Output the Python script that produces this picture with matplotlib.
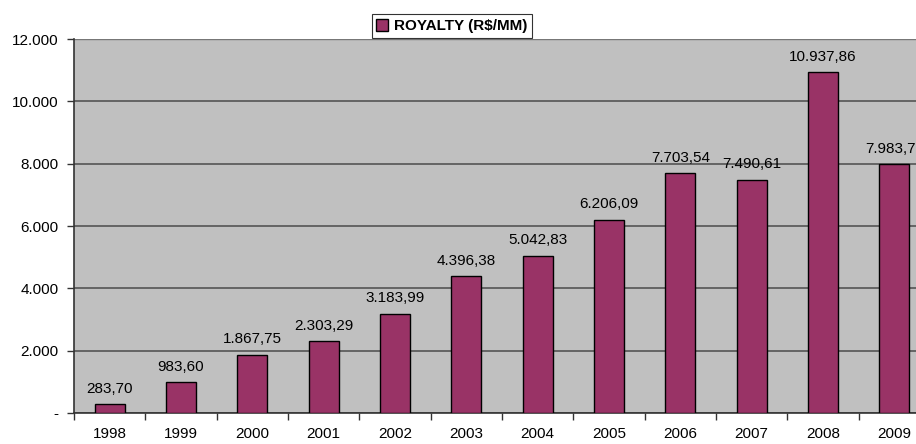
import numpy as np
import matplotlib.pyplot as plt
from matplotlib.ticker import FixedLocator, NullFormatter

years = ['1998', '1999', '2000', '2001', '2002', '2003', '2004', '2005', '2006', '2007', '2008', '2009']
royalty = [283.70, 983.60, 1867.75, 2303.29, 3183.99, 4396.38, 5042.83, 6206.09, 7703.54, 7490.61, 10937.86, 7983.71]
yticks = [0, 2000, 4000, 6000, 8000, 10000, 12000]
ylabels = ['-', '2.000', '4.000', '6.000', '8.000', '10.000', '12.000']

plt.rcParams['font.family'] = ['Liberation Sans', 'DejaVu Sans']
FS = 11

def br_fmt(v):
    # brazilian number format 1.234,56
    s = '{:,.2f}'.format(v)
    return s.replace(',', 'X').replace('.', ',').replace('X', '.')

W, H = 916, 444
fig = plt.figure(figsize=(W / 100, H / 100), dpi=100)
# plot area runs past the right edge in the original
ax = fig.add_axes([74 / W, 1 - 413 / H, (930 - 74) / W, (413 - 39) / H])
ax.set_facecolor('#C0C0C0')

x = np.arange(len(years))
bars = ax.bar(x, royalty, width=0.42, color='#993366', edgecolor='black', linewidth=1,
              label='ROYALTY (R$/MM)', zorder=3)

for xi, v in zip(x, royalty):
    ax.annotate(br_fmt(v), (xi, v), xytext=(0, 6), textcoords='offset points',
                ha='center', va='bottom', fontsize=FS, color='black', clip_on=False)

ax.set_xlim(-0.5, len(years) - 0.5)
ax.set_ylim(0, 12000)
ax.set_yticks(yticks)
ax.set_yticklabels(ylabels, fontsize=FS)
ax.yaxis.grid(True, color='#555555', linewidth=1.2, zorder=1)

# category labels centered, tick marks between categories
ax.set_xticks(x)
ax.set_xticklabels(years, fontsize=FS)
ax.tick_params(axis='x', which='major', length=0, pad=10)
ax.xaxis.set_minor_locator(FixedLocator(np.arange(-0.5, len(years), 1)))
ax.xaxis.set_minor_formatter(NullFormatter())
ax.tick_params(axis='x', which='minor', length=5, width=1, color='#333333')
ax.tick_params(axis='y', length=5, width=1, color='#333333', pad=6)

for side in ['top', 'right']:
    ax.spines[side].set_visible(False)
ax.spines['left'].set_color('#333333')
ax.spines['bottom'].set_color('#333333')
ax.spines['left'].set_linewidth(1.2)
ax.spines['bottom'].set_linewidth(1.2)
ax.axhline(12000, color='#777777', linewidth=1, zorder=2)

leg = fig.legend(handles=[bars], loc='center', bbox_to_anchor=(452 / W, 1 - 26 / H),
                 frameon=True, fancybox=False, edgecolor='black', handlelength=0.8,
                 handleheight=0.8, handletextpad=0.4, borderpad=0.3,
                 prop={'weight': 'bold', 'size': FS})
leg.get_frame().set_linewidth(0.8)

fig.savefig('out.png', dpi=100)
